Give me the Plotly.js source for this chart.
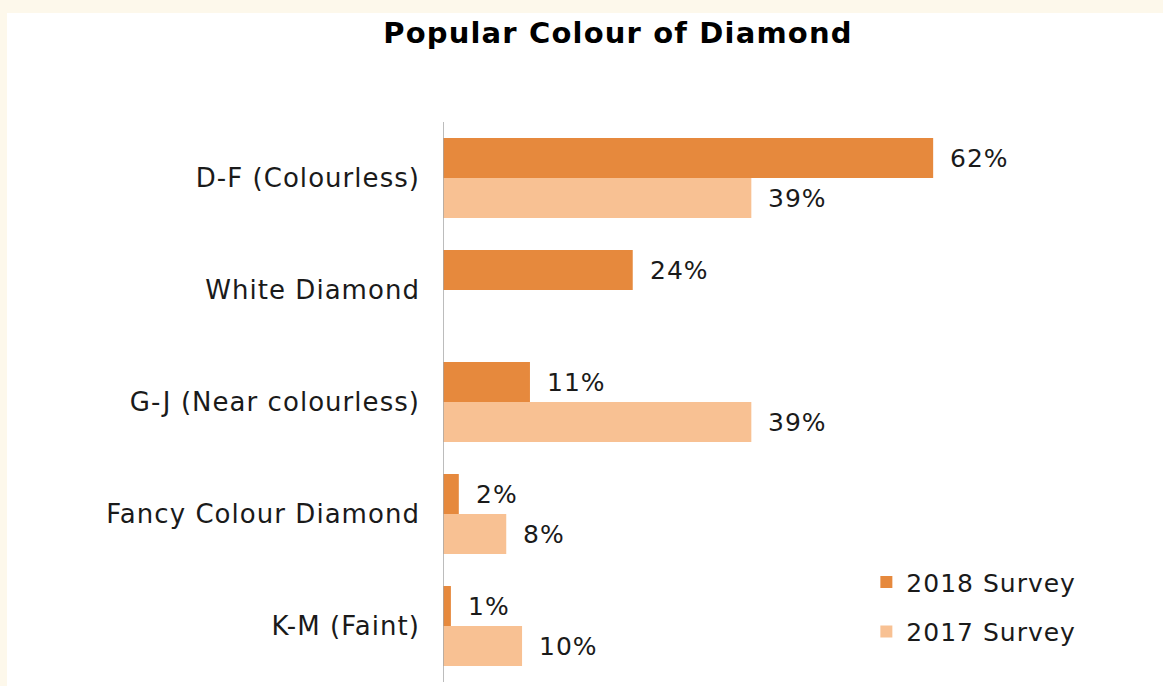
<!DOCTYPE html>
<html>
<head>
<meta charset="utf-8">
<script src="https://cdn.plot.ly/plotly-3.0.1.min.js"></script>
<style>
  html, body { margin: 0; padding: 0; background: #FDF8EB; width: 1163px; height: 686px; overflow: hidden; }
  #chart { position: absolute; left: 7px; top: 13px; width: 1156px; height: 673px; }
  svg text { letter-spacing: 0.04em; }
</style>
</head>
<body>
<div id="chart"></div>
<script>
const categories = ["D-F (Colourless)", "White Diamond", "G-J (Near colourless)", "Fancy Colour Diamond", "K-M (Faint)"];
const survey2018 = [62, 24, 11, 2, 1];
const survey2017 = [39, null, 39, 8, 10];
const seriesNames = ["2018 Survey", "2017 Survey"];
const colors = ["#E6893D", "#F8C193"];

const FONT = "DejaVu Sans, Verdana, sans-serif";

const traces = [
  { type: "bar", orientation: "h", name: seriesNames[0], legendgroup: "g2018", y: categories, x: survey2018,
    marker: { color: colors[0] }, hoverinfo: "none" },
  { type: "bar", orientation: "h", name: seriesNames[1], legendgroup: "g2017", y: categories, x: survey2017,
    marker: { color: colors[1] }, hoverinfo: "none" }
];

const annotations = [];
[survey2018, survey2017].forEach((vals, si) => {
  vals.forEach((v, i) => {
    if (v === null) return;
    annotations.push({
      x: v, y: categories[i], xref: "x", yref: "y",
      text: v + "%", showarrow: false, xanchor: "left", yanchor: "middle",
      xshift: 15, yshift: si === 0 ? 20 : -20,
      font: { family: FONT, size: 25, color: "#1a1a1a" }
    });
  });
});

const layout = {
  width: 1156, height: 673,
  paper_bgcolor: "#FFFFFF", plot_bgcolor: "#FFFFFF",
  margin: { l: 436, r: 48, t: 109, b: 4 },
  barmode: "group", bargap: 0.286, bargroupgap: 0,
  title: { text: "<b>Popular Colour of Diamond</b>", x: 0.5285, xref: "container", xanchor: "center",
           y: 0.97, yref: "container", yanchor: "middle",
           font: { family: FONT, size: 29, color: "#000000" } },
  xaxis: { range: [0, 85], visible: false, fixedrange: true },
  yaxis: { autorange: "reversed", showgrid: false, zeroline: false, showline: false,
           ticks: "", ticklabelstandoff: 22,
           tickfont: { family: FONT, size: 26, color: "#1a1a1a" }, fixedrange: true },
  shapes: [{ type: "line", xref: "x", yref: "paper", x0: 0, x1: 0, y0: 0, y1: 1,
             line: { color: "#A6A6A6", width: 1.5 } }],
  legend: { x: 0.630, xanchor: "left", y: 0.219, yanchor: "top",
            font: { family: FONT, size: 25, color: "#1a1a1a" },
            itemwidth: 30, tracegroupgap: 14, bgcolor: "rgba(0,0,0,0)" },
  annotations: annotations,
  showlegend: true
};

Plotly.newPlot("chart", traces, layout, { displayModeBar: false, staticPlot: true });
</script>
</body>
</html>
